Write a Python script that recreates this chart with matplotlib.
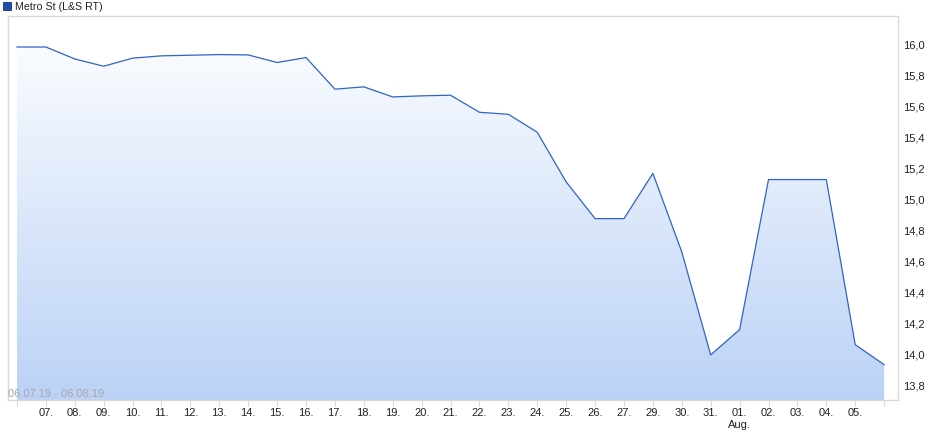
import matplotlib
matplotlib.use("Agg")
import matplotlib.pyplot as plt
import numpy as np
from matplotlib.patches import Rectangle

plt.rcParams['font.family'] = ['Liberation Sans', 'DejaVu Sans']

dates = ["06.", "07.", "08.", "09.", "10.", "11.", "12.", "13.", "14.", "15.",
         "16.", "17.", "18.", "19.", "20.", "21.", "22.", "23.", "24.", "25.",
         "26.", "27.", "29.", "30.", "31.", "01.", "02.", "03.", "04.", "05.", "06."]
prices = [15.980, 15.980, 15.903, 15.856, 15.908, 15.923, 15.927, 15.931, 15.929, 15.880,
          15.912, 15.708, 15.723, 15.658, 15.665, 15.669, 15.559, 15.546, 15.430, 15.110,
          14.873, 14.873, 15.165, 14.658, 13.994, 14.157, 15.125, 15.125, 15.125, 14.060,
          13.931]
y_ticks = [13.8, 14.0, 14.2, 14.4, 14.6, 14.8, 15.0, 15.2, 15.4, 15.6, 15.8, 16.0]
title = "Metro St (L&S RT)"
range_text = "06.07.19 - 06.08.19"

W, H = 940, 435
fig = plt.figure(figsize=(W / 100, H / 100), dpi=100)
ax = fig.add_axes([8 / W, 1 - 401 / H, (898 - 8) / W, (401 - 17) / H])

x = np.arange(len(prices))
ymin, ymax = 13.703, 16.18
xmin, xmax = -0.31, 30.48
ax.set_xlim(xmin, xmax)
ax.set_ylim(ymin, ymax)

# gradient fill under the line
poly = ax.fill_between(x, prices, ymin, color='none', lw=0)
grad = np.linspace(0, 1, 256).reshape(-1, 1)
top = np.array([1.0, 1.0, 1.0])
bot = np.array([0xbb, 0xd2, 0xf6]) / 255
img = top + (bot - top) * grad[:, :, None][:, :, 0:1] * np.ones((1, 1, 3))
img = img.reshape(256, 1, 3)
im = ax.imshow(img, extent=[xmin, xmax, ymin, ymax], origin='upper',
               aspect='auto', zorder=1, interpolation='bilinear')
path = poly.get_paths()[0]
im.set_clip_path(path, transform=ax.transData)

ax.plot(x, prices, color='#2e64c6', lw=0.9, zorder=3)

for s in ax.spines.values():
    s.set_color('#d9d9d9')
    s.set_linewidth(1)

ax.yaxis.tick_right()
ax.set_yticks(y_ticks)
ax.set_yticklabels([f"{v:.1f}".replace('.', ',') for v in y_ticks])
ax.tick_params(axis='y', length=0, pad=3.5, labelsize=8, labelcolor='#222222')

ax.set_xticks(x)
labels = [""] + dates[1:-1] + [""]
labels = [l + ("\nAug." if l == "01." else "") for l in labels]
ax.set_xticklabels(labels)
ax.tick_params(axis='x', length=4, color='#d9d9d9', pad=1, labelsize=8,
               labelcolor='#222222')

ax.text(0.0, 0.004, range_text, transform=ax.transAxes, fontsize=8,
        color='#a8a8a8', ha='left', va='bottom', zorder=5)

# legend title
fig.patches.append(Rectangle((3 / W, 1 - 11 / H), 8 / W, 8 / H,
                             transform=fig.transFigure, facecolor='#1f4fa8',
                             edgecolor='#16357a', lw=0.6))
fig.text(15 / W, 1 - 7 / H, title, fontsize=7.7, color='#222222',
         ha='left', va='center')

fig.savefig("out.png", dpi=100)
